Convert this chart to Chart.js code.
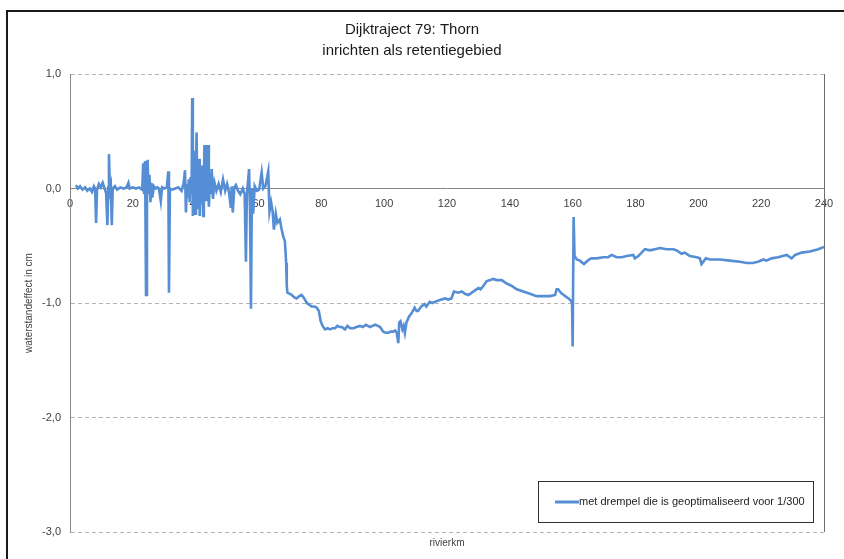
<!DOCTYPE html>
<html>
<head>
<meta charset="utf-8">
<script src="https://cdn.jsdelivr.net/npm/chart.js@4.4.1/dist/chart.umd.min.js"></script>
<style>
  html, body { margin: 0; padding: 0; background: #ffffff; }
  #wrap { width: 844px; height: 559px; position: relative; }
  canvas { display: block; }
</style>
</head>
<body>
<div id="wrap"><canvas id="c" width="844" height="559"></canvas></div>
<script>
const chartTitle = ['Dijktraject 79: Thorn', 'inrichten als retentiegebied'];
const xAxisTitle = 'rivierkm';
const yAxisTitle = 'waterstandeffect in cm';
const seriesLabel = 'met drempel die is geoptimaliseerd voor 1/300';

const xTickValues = [0, 20, 40, 60, 80, 100, 120, 140, 160, 180, 200, 220, 240];
const yTickValues = [-3, -2, -1, 0, 1];
const yTickLabels = ['-3,0', '-2,0', '-1,0', '0,0', '1,0'];

const rivierkm = [
  1.9, 2.5, 3.2, 4.0, 4.8, 5.5, 6.3, 7.0, 7.6, 8.0, 8.3, 8.6, 9.2, 9.8, 10.4, 11.0, 11.5, 11.9, 12.2, 12.4,
  12.7, 13.0, 13.3, 13.6, 14.3, 15.0, 16.0, 17.0, 18.0, 18.6, 19.0, 20.0, 21.0, 22.0, 23.0, 23.3, 23.6, 23.9, 24.2, 24.5,
  24.7, 25.0, 25.3, 25.6, 25.9, 26.2, 26.7, 27.3, 27.8, 28.3, 28.9, 29.3, 30.0, 30.8, 31.3, 31.5, 31.8, 32.5, 33.5, 34.5,
  35.5, 36.2, 36.6, 36.9, 37.2, 37.5, 37.8, 38.1, 38.4, 38.7, 38.9, 39.1, 39.3, 39.5, 39.7, 39.9, 40.1, 40.3, 40.5, 40.7,
  40.9, 41.1, 41.3, 41.5, 41.7, 41.9, 42.1, 42.4, 42.6, 42.8, 43.0, 43.2, 43.4, 43.6, 43.8, 44.0, 44.2, 44.5, 44.8, 45.1,
  45.5, 46.0,
  46.6, 47.3, 48.0, 48.7, 49.4, 50.0, 50.6, 51.2, 51.5, 51.8, 52.3, 52.8,
  53.5, 54.2, 55.0, 55.6, 56.0, 56.3, 57.0, 57.3, 57.6, 57.9, 58.3, 58.8, 59.5, 60.2, 61.0, 61.5, 62.2, 63.1, 63.5, 64.0,
  64.5, 64.9, 65.5, 66.0, 66.8, 67.3, 67.9, 68.4, 68.8, 69.0, 69.2, 70.0, 70.6, 71.3, 72.1, 73.0, 73.7, 74.3, 74.8, 75.4,
  75.9, 76.9, 77.7, 78.5, 79.2, 79.8, 80.4, 81.2, 82.0, 82.8, 83.6, 84.4, 85.1, 85.8, 86.5, 87.5, 88.3, 89.2, 90.2, 91.2,
  92.3, 93.2, 94.2, 95.5, 96.3, 97.1, 98.0, 98.7, 99.7, 100.5, 101.3, 102.1, 102.9, 103.5, 104.0, 104.5, 104.8, 105.2, 105.8, 106.2,
  106.6, 107.1, 107.9, 108.7, 109.7, 110.3, 110.8, 111.8, 112.9, 113.4, 114.5, 115.3, 116.1, 117.1, 118.2, 119.4, 120.4, 121.4, 122.2, 123.6,
  124.7, 125.7, 126.8, 127.9, 128.9, 130.0, 130.7, 131.6, 132.6, 133.7, 134.7, 135.8, 137.4, 139.0, 140.6, 142.2, 144.3, 146.4, 148.5, 150.7,
  152.8, 154.4, 154.9, 155.4, 156.2, 157.6, 158.7, 159.4, 159.8, 160.0, 160.3, 160.6, 161.3, 162.3, 163.6, 164.4, 165.2, 166.0, 167.6, 169.7,
  171.3, 172.4, 174.0, 175.6, 177.2, 179.3, 179.8, 180.9, 183.0, 184.6, 186.2, 187.8, 189.9, 192.0, 193.1, 194.7, 195.7, 197.3, 199.5, 200.5,
  201.0, 202.4, 203.7, 206.9, 210.0, 213.3, 215.4, 217.3, 219.0, 220.7, 221.7, 223.3, 225.4, 228.1, 229.7, 230.8, 232.9, 235.5, 238.2, 240.0
];

const waterstandeffect = [
  0.03, 0.00, 0.02, -0.01, 0.01, -0.02, 0.00, -0.03, 0.02, 0.00, -0.30, -0.01, 0.04, 0.01, 0.05, 0.00, -0.04, -0.32, 0.01, 0.30,
  -0.02, 0.02, -0.32, 0.00, 0.02, -0.01, 0.01, 0.00, 0.01, 0.05, 0.00, 0.01, 0.00, 0.01, -0.01, 0.22, -0.05, 0.24, -0.93, 0.10,
  0.25, -0.05, 0.12, -0.12, 0.05, -0.08, 0.02, 0.00, 0.01, 0.00, -0.11, 0.01, 0.00, 0.01, 0.15, -0.91, 0.00, -0.01, 0.00, 0.01,
  -0.02, 0.05, 0.16, -0.21, 0.04, -0.08, 0.08, -0.12, 0.10, -0.05, 0.79, -0.24, 0.20, -0.15, 0.33, -0.22, 0.18, 0.49, -0.10, 0.15,
  -0.18, 0.26, -0.24, 0.12, 0.20, -0.12, 0.10, -0.24, 0.05, 0.38, -0.05, 0.30, -0.10, 0.38, 0.10, 0.38, -0.16, 0.05, -0.05, 0.17,
  -0.09, 0.05,
  -0.02, 0.04, -0.03, 0.08, -0.02, 0.04, -0.03, -0.17, 0.02, -0.21, 0.01, 0.03,
  -0.02, -0.05, 0.00, -0.05, -0.64, -0.05, 0.17, -0.20, -1.05, 0.00, -0.22, 0.02, -0.02, -0.01, 0.14, 0.00, 0.02, 0.15, -0.20, -0.12,
  -0.20, -0.36, -0.22, -0.30, -0.27, -0.35, -0.42, -0.46, -0.65, -0.85, -0.91, -0.92, -0.93, -0.95, -0.96, -0.94, -0.93, -0.95, -0.97, -1.00,
  -1.01, -1.03, -1.03, -1.04, -1.07, -1.16, -1.20, -1.23, -1.22, -1.23, -1.22, -1.22, -1.20, -1.21, -1.21, -1.23, -1.20, -1.22, -1.22, -1.21,
  -1.20, -1.21, -1.19, -1.21, -1.20, -1.19, -1.20, -1.21, -1.25, -1.26, -1.26, -1.25, -1.25, -1.24, -1.26, -1.35, -1.17, -1.16, -1.23, -1.20,
  -1.26, -1.17, -1.12, -1.09, -1.04, -1.07, -1.07, -1.03, -1.01, -1.03, -0.99, -1.00, -0.99, -0.98, -0.97, -0.96, -0.97, -0.96, -0.90, -0.91,
  -0.90, -0.92, -0.93, -0.91, -0.89, -0.87, -0.88, -0.85, -0.81, -0.80, -0.79, -0.80, -0.80, -0.83, -0.85, -0.88, -0.90, -0.92, -0.94, -0.94,
  -0.94, -0.93, -0.88, -0.88, -0.91, -0.94, -0.96, -0.98, -1.00, -1.38, -0.25, -0.59, -0.62, -0.63, -0.66, -0.64, -0.62, -0.61, -0.61, -0.60,
  -0.60, -0.58, -0.60, -0.60, -0.59, -0.58, -0.61, -0.59, -0.53, -0.54, -0.53, -0.52, -0.53, -0.53, -0.54, -0.57, -0.56, -0.59, -0.60, -0.61,
  -0.66, -0.61, -0.62, -0.62, -0.63, -0.64, -0.65, -0.65, -0.64, -0.62, -0.63, -0.61, -0.60, -0.58, -0.61, -0.58, -0.56, -0.55, -0.53, -0.51
];

const lineColor = '#558ED5';
const textColor = '#404040';
const baseFont = "'Liberation Sans', Arial, sans-serif";
const titleFont = "'Liberation Sans', Arial, sans-serif";

const points = rivierkm.map((x, i) => ({ x: x, y: waterstandeffect[i] }));

const framePlugin = {
  id: 'frame',
  beforeDraw(chart) {
    const ctx = chart.ctx;
    ctx.save();
    ctx.fillStyle = '#ffffff';
    ctx.fillRect(0, 0, chart.width, chart.height);
    ctx.strokeStyle = '#1a1a1a';
    ctx.lineWidth = 2;
    ctx.beginPath();
    ctx.moveTo(7, chart.height);
    ctx.lineTo(7, 11);
    ctx.lineTo(chart.width, 11);
    ctx.stroke();
    ctx.restore();
  },
  afterDraw(chart) {
    const ctx = chart.ctx;
    const a = chart.chartArea;
    ctx.save();
    ctx.strokeStyle = '#6e6e6e';
    ctx.lineWidth = 1;
    ctx.beginPath();
    ctx.moveTo(Math.round(a.right) + 0.5, a.top);
    ctx.lineTo(Math.round(a.right) + 0.5, a.bottom);
    ctx.stroke();
    // legend box
    const bx = a.right - 286, by = a.bottom - 51, bw = 275, bh = 41;
    ctx.fillStyle = '#ffffff';
    ctx.fillRect(bx, by, bw, bh);
    ctx.strokeStyle = '#303030';
    ctx.strokeRect(bx + 0.5, by + 0.5, bw, bh);
    const ly = by + bh / 2 + 0.5;
    ctx.strokeStyle = lineColor;
    ctx.lineWidth = 3;
    ctx.beginPath();
    ctx.moveTo(bx + 17, ly);
    ctx.lineTo(bx + 41, ly);
    ctx.stroke();
    ctx.fillStyle = '#222222';
    ctx.font = "11px " + baseFont;
    ctx.textBaseline = 'middle';
    ctx.textAlign = 'left';
    ctx.fillText(chart.data.datasets[0].label, bx + 41, ly);
    ctx.restore();
  }
};

new Chart(document.getElementById('c'), {
  type: 'line',
  data: {
    datasets: [{
      label: seriesLabel,
      data: points,
      borderColor: lineColor,
      backgroundColor: lineColor,
      borderWidth: 2.6,
      pointRadius: 0,
      tension: 0,
      fill: false
    }]
  },
  options: {
    responsive: false,
    animation: false,
    parsing: true,
    layout: { padding: { left: 0, right: 20, top: 0, bottom: 0 } },
    plugins: {
      legend: { display: false },
      tooltip: { enabled: false },
      title: {
        display: true,
        text: chartTitle,
        color: '#1a1a1a',
        font: { family: titleFont, size: 15, weight: 'normal', lineHeight: 1.4 },
        padding: { top: 19, bottom: 13 }
      }
    },
    scales: {
      x: {
        type: 'linear',
        position: { y: 0 },
        min: 0,
        max: 240,
        afterBuildTicks(scale) { scale.ticks = xTickValues.map(v => ({ value: v })); },
        grid: { display: false, drawTicks: false },
        border: { display: true, color: '#868686', width: 1 },
        ticks: { color: textColor, font: { family: baseFont, size: 11 }, padding: 9, maxRotation: 0 }
      },
      x2: {
        type: 'linear',
        position: 'bottom',
        min: 0,
        max: 240,
        grid: { display: false, drawTicks: false },
        border: { display: false },
        ticks: { display: false },
        title: { display: true, text: xAxisTitle, color: textColor, font: { family: baseFont, size: 10 }, padding: { top: 0, bottom: 10 } },
        afterFit(scale) { scale.height = 27; }
      },
      y: {
        type: 'linear',
        position: 'left',
        min: -3,
        max: 1,
        afterBuildTicks(scale) { scale.ticks = yTickValues.map(v => ({ value: v })); },
        grid: {
          drawTicks: false,
          color: ctx => (ctx.tick && ctx.tick.value === 0) ? 'rgba(0,0,0,0)' : '#b4b4b4',
          lineWidth: 1
        },
        border: { display: true, color: '#868686', width: 1, dash: [4, 3] },
        ticks: {
          color: textColor,
          font: { family: baseFont, size: 11 },
          padding: 9,
          callback: (v) => { const i = yTickValues.indexOf(v); return i >= 0 ? yTickLabels[i] : ''; }
        },
        title: { display: true, text: yAxisTitle, color: textColor, font: { family: baseFont, size: 10 }, padding: { top: 23, bottom: 0 } },
        afterFit(scale) { scale.width = 70; }
      }
    }
  },
  plugins: [framePlugin]
});
</script>
</body>
</html>
